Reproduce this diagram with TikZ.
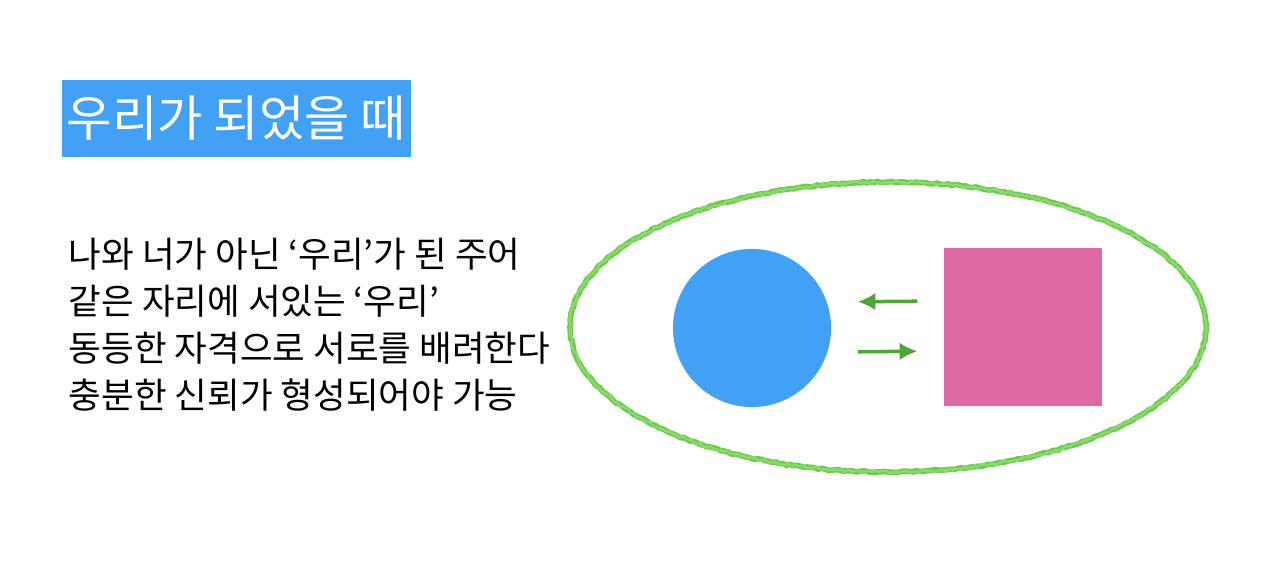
\documentclass[tikz,border=0pt]{standalone}
\usepackage{fontspec}
\setmainfont{Noto Sans CJK KR}
\usetikzlibrary{decorations.pathmorphing,arrows.meta}
\definecolor{skyblue}{HTML}{42A0F5}
\definecolor{rosepink}{HTML}{DF69A5}
\definecolor{crayon}{HTML}{6DCD4B}
\definecolor{leaf}{HTML}{4CA735}

\begin{document}
\begin{tikzpicture}[x=0.01cm,y=-0.01cm]
\useasboundingbox (0,0) rectangle (1280,580);
% Title
\node[fill=skyblue,text=white,minimum width=3.49cm,minimum height=0.77cm,inner sep=0pt,font=\fontsize{14}{16}\selectfont] (title) at (236.5,118.5) {우리가 되었을 때};
% Text
\node[anchor=north west,align=left,inner sep=0pt,font=\fontsize{10.1}{13.4}\selectfont] (desc) at (68,237) {나와 너가 아닌 ‘우리’가 된 주어\\같은 자리에 서있는 ‘우리’\\동등한 자격으로 서로를 배려한다\\충분한 신뢰가 형성되어야 가능};
% Crayon ring
\draw[crayon,line width=1.6pt,decorate,decoration={random steps,segment length=1pt,amplitude=0.2pt}] (888,327) ellipse (318 and 145);
\draw[crayon!70,line width=0.7pt,opacity=0.7,decorate,decoration={random steps,segment length=0.8pt,amplitude=0.35pt}] (888,327) ellipse (318 and 145);
\node[circle,fill=skyblue,minimum size=1.58cm,inner sep=0pt] (na) at (752,328) {};
\node[rectangle,fill=rosepink,minimum size=1.58cm,inner sep=0pt] (neo) at (1023,327) {};
% Arrows
\draw[leaf,line width=1pt,-{Latex[length=5pt,width=5pt]},shorten <=0.26cm,shorten >=0.26cm] ([yshift=0.26cm]neo.west) -- ([yshift=0.26cm]na.east);
\draw[leaf,line width=1pt,-{Latex[length=5pt,width=5pt]},shorten <=0.26cm,shorten >=0.26cm] ([yshift=-0.24cm]na.east) -- ([yshift=-0.24cm]neo.west);
\end{tikzpicture}
\end{document}
